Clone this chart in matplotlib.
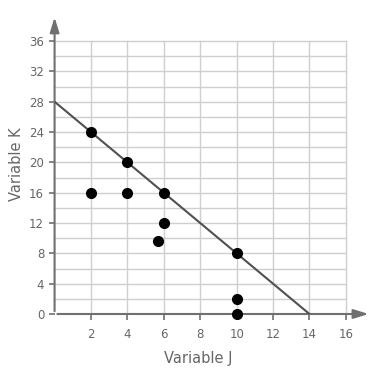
import matplotlib.pyplot as plt

# data points (Variable J, Variable K)
j_vals = [2, 4, 6, 10, 2, 4, 6, 5.7, 10, 10]
k_vals = [24, 20, 16, 8, 16, 16, 12, 9.6, 2, 0]

# fitted line end points
line_j = [0, 14]
line_k = [28, 0]

xticks = [2, 4, 6, 8, 10, 12, 14, 16]
yticks = [0, 4, 8, 12, 16, 20, 24, 28, 32, 36]

txt = '#666666'
axc = '#707070'

fig = plt.figure(figsize=(3.78, 3.80), dpi=100)
ax = fig.add_axes([0.1444, 0.1737, 0.838, 0.788])
ax.set_xlim(0, 17.4)
ax.set_ylim(0, 39.5)

# grid only inside 0..16, 0..36
for gx in range(2, 17, 2):
    ax.plot([gx, gx], [0, 36], color='#cfcfcf', lw=1, zorder=1)
for gy in range(2, 37, 2):
    ax.plot([0, 16], [gy, gy], color='#cfcfcf', lw=1, zorder=1)

for s in ax.spines.values():
    s.set_visible(False)

# axes with arrows
ax.annotate('', xy=(17.4, 0), xytext=(0, 0),
            arrowprops=dict(arrowstyle='-|>,head_length=0.9,head_width=0.28', color=axc, lw=1.5),
            annotation_clip=False, zorder=3)
ax.annotate('', xy=(0, 39.5), xytext=(0, 0),
            arrowprops=dict(arrowstyle='-|>,head_length=0.9,head_width=0.28', color=axc, lw=1.5),
            annotation_clip=False, zorder=3)

ax.plot(line_j, line_k, color='#505050', lw=1.5, zorder=4)
ax.plot(j_vals, k_vals, 'o', color='black', ms=7, zorder=5, clip_on=False)

ax.set_xticks(xticks)
ax.set_yticks(yticks)
ax.tick_params(axis='both', colors=axc, labelcolor=txt, labelsize=8.5, length=4, width=1.2)
ax.tick_params(axis='x', pad=6)

ax.set_xlabel('Variable J', color=txt, fontsize=10.5)
ax.set_ylabel('Variable K', color=txt, fontsize=10.5, labelpad=4)
ax.xaxis.set_label_coords(0.455, -0.125)

fig.savefig('out.png', dpi=100)
